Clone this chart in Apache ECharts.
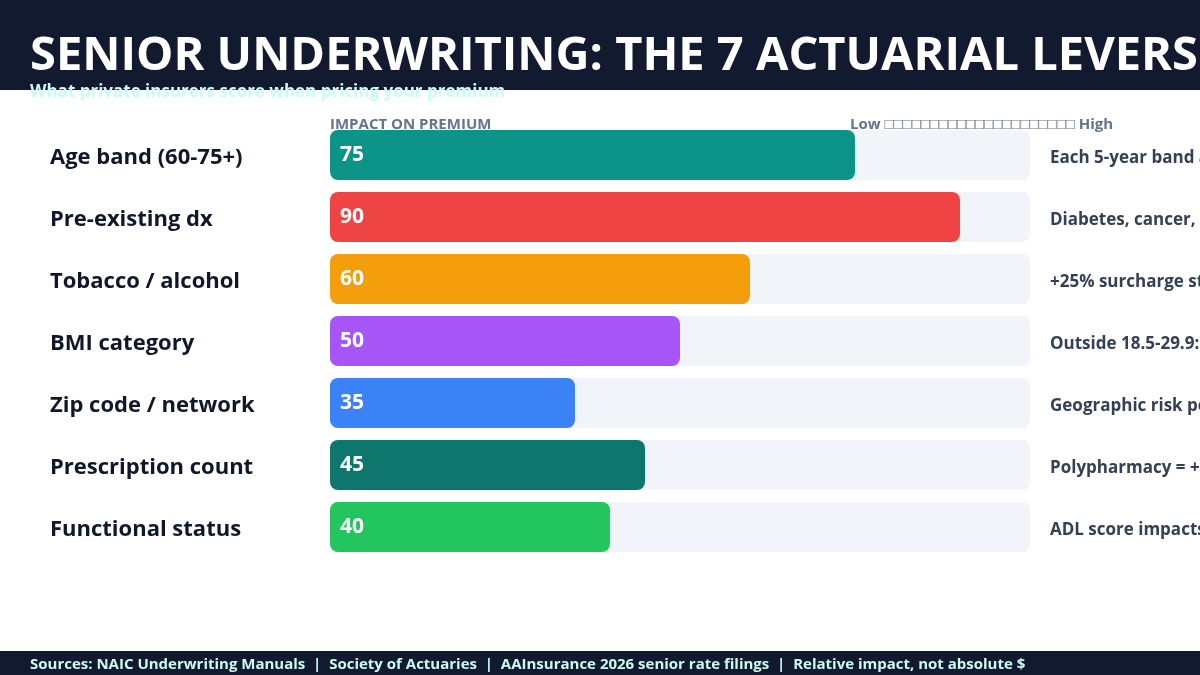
<!DOCTYPE html>
<html>
<head>
<meta charset="utf-8">
<script src="https://cdn.jsdelivr.net/npm/echarts@6/dist/echarts.min.js"></script>
<style>
  html, body { margin: 0; padding: 0; background: #ffffff; }
  #chart { width: 1200px; height: 675px; }
</style>
</head>
<body>
<div id="chart"></div>
<script>
// levers, scores and side notes
const levers = ['Age band (60-75+)', 'Pre-existing dx', 'Tobacco / alcohol', 'BMI category',
  'Zip code / network', 'Prescription count', 'Functional status'];
const impact = [75, 90, 60, 50, 35, 45, 40];
const barColors = ['#0d9488', '#ef4444', '#f59e0b', '#a855f7', '#3b82f6', '#0f766e', '#22c55e'];
const notes = ['Each 5-year band adds 15-20%', 'Diabetes, cancer, COPD, CHF', '+25% surcharge standard',
  'Outside 18.5-29.9: surcharge', 'Geographic risk pools', 'Polypharmacy = +10-30%', 'ADL score impacts riders'];

const FONT = '"Open Sans", "Noto Sans", sans-serif';

const chart = echarts.init(document.getElementById('chart'));

const option = {
  backgroundColor: '#ffffff',
  animation: false,
  grid: { left: 330, right: 170, top: 124, bottom: 117, outerBoundsMode: 'none', containLabel: false },
  xAxis: {
    type: 'value', min: 0, max: 100,
    show: false
  },
  yAxis: [
    {
      type: 'category', data: levers, inverse: true,
      axisLine: { show: false }, axisTick: { show: false },
      axisLabel: {
        align: 'left', margin: 280,
        formatter: v => '{a|' + v + '}',
        rich: { a: { padding: [6, 0, 0, 0], fontFamily: FONT, fontSize: 22, fontWeight: 'bold', color: '#0f172a' } }
      }
    },
    {
      type: 'category', data: notes, inverse: true, position: 'right',
      axisLine: { show: false }, axisTick: { show: false },
      axisLabel: {
        align: 'left', margin: 20,
        formatter: v => '{a|' + v + '}',
        rich: { a: { padding: [6, 0, 0, 0], fontFamily: FONT, fontSize: 17, fontWeight: 'bold', color: '#334155' } }
      }
    }
  ],
  series: [{
    type: 'bar',
    barWidth: 50,
    data: impact.map((v, i) => ({ value: v, itemStyle: { color: barColors[i] } })),
    itemStyle: { borderRadius: 8 },
    showBackground: true,
    backgroundStyle: { color: '#f1f5f9', borderRadius: 8 },
    label: {
      show: true, position: 'insideLeft', distance: 10,
      fontFamily: FONT, fontSize: 21, fontWeight: 'bold', color: '#ffffff'
    }
  }],
  graphic: [
    { type: 'rect', z: -1, shape: { x: 0, y: 0, width: 1200, height: 90 }, style: { fill: '#111a2e' } },
    { type: 'rect', z: -1, shape: { x: 0, y: 651, width: 1200, height: 24 }, style: { fill: '#111a2e' } },
    {
      type: 'text', x: 30, y: 57,
      style: { text: 'SENIOR UNDERWRITING: THE 7 ACTUARIAL LEVERS', fill: '#ffffff',
        font: 'bold 47px ' + FONT, verticalAlign: 'middle' }
    },
    {
      type: 'text', x: 30, y: 92,
      style: { text: 'What private insurers score when pricing your premium', fill: '#ccfbf1',
        font: 'bold 17px ' + FONT, verticalAlign: 'middle' }
    },
    {
      type: 'text', x: 330, y: 125,
      style: { text: 'IMPACT ON PREMIUM', fill: '#64748b', font: 'bold 15px ' + FONT, verticalAlign: 'middle' }
    },
    {
      type: 'text', x: 850, y: 125,
      style: { text: 'Low \u25a1\u25a1\u25a1\u25a1\u25a1\u25a1\u25a1\u25a1\u25a1\u25a1\u25a1\u25a1\u25a1\u25a1\u25a1\u25a1\u25a1\u25a1\u25a1\u25a1\u25a1 High',
        fill: '#64748b', font: 'bold 15px ' + FONT, verticalAlign: 'middle' }
    },
    {
      type: 'text', x: 30, y: 665,
      style: { text: 'Sources: NAIC Underwriting Manuals  |  Society of Actuaries  |  AAInsurance 2026 senior rate filings  |  Relative impact, not absolute $',
        fill: '#ccfbf1', font: 'bold 15px ' + FONT, verticalAlign: 'middle' }
    }
  ]
};

chart.setOption(option);
</script>
</body>
</html>
